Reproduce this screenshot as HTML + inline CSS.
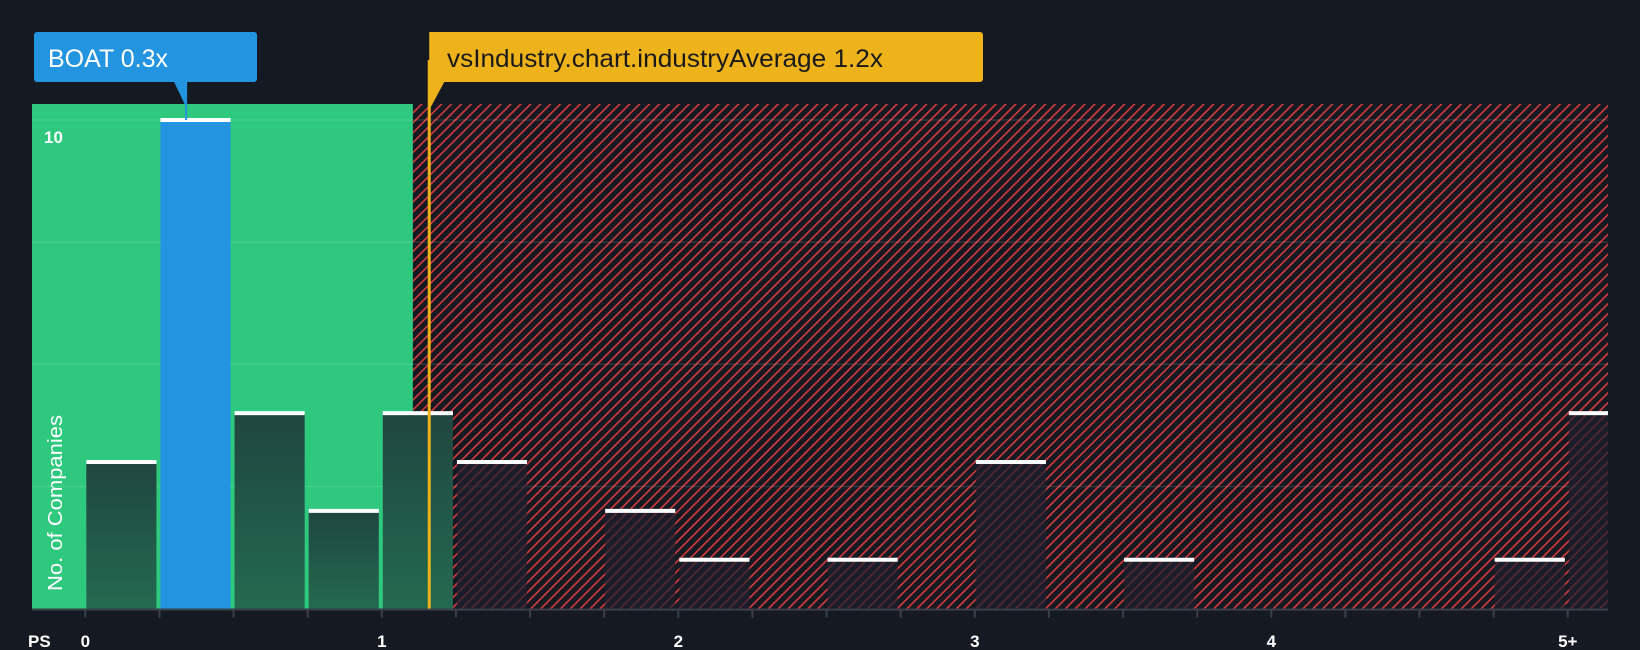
<!DOCTYPE html>
<html><head><meta charset="utf-8"><style>
html,body{margin:0;padding:0;background:#151a22;}
svg{display:block;font-family:"Liberation Sans",sans-serif;}
</style></head><body>
<svg id="chart" width="1640" height="650" viewBox="0 0 1640 650">
<defs>
<pattern id="hatch" patternUnits="userSpaceOnUse" width="7" height="7" patternTransform="rotate(45)">
<rect width="7" height="7" fill="#151a22"/>
<rect x="0" y="0" width="1.6" height="7" fill="#d63a3e"/>
</pattern>
<linearGradient id="gbar" x1="0" y1="0" x2="0" y2="1">
<stop offset="0" stop-color="#1f4640"/><stop offset="1" stop-color="#236a50"/>
</linearGradient>
</defs>
<g id="plot"></g>
</svg>
<script>
const binStarts = [0,0.25,0.5,0.75,1,1.25,1.5,1.75,2,2.25,2.5,2.75,3,3.25,3.5,3.75,4,4.25,4.5,4.75,5];
const counts =    [3,10,4,2,4,3,0,2,1,0,1,0,3,0,1,0,0,0,0,1,4];
const yTicks = [10];
const xTickLabels = ["0","1","2","3","4","5+"];
const xTickValues = [0,1,2,3,4,5];
const companyValue = 0.34;
const industryValue = 1.16;
const fairBoundary = 1.105;

const NS="http://www.w3.org/2000/svg";
const x0=85.3, pxPerUnit=296.5, plotL=32, plotR=1608, plotT=104, base=608.6, pxPerCount=48.86;
const X=v=>x0+v*pxPerUnit;
const Y=c=>base-c*pxPerCount;
const g=document.getElementById('plot');
function mk(tag,attrs,parent){const e=document.createElementNS(NS,tag);for(const k in attrs)e.setAttribute(k,attrs[k]);(parent||g).appendChild(e);return e;}

const bx=X(fairBoundary);
const green=mk('rect',{x:plotL,y:plotT,width:bx-plotL,height:base-plotT,fill:'#2ec87e'});


const red=mk('rect',{x:bx,y:plotT,width:plotR-bx,height:base-plotT,fill:'url(#hatch)'});



[2.5,5,7.5,10].forEach(v=>{
  const l=mk('line',{x1:plotL,x2:plotR,y1:Y(v),y2:Y(v),stroke:'rgba(255,255,255,0.12)','stroke-width':1.5});
  
  
});

binStarts.forEach((s,i)=>{
  const c=counts[i]; if(!c) return;
  let l=X(s)+1, r=Math.min(X(s+0.25)-3,plotR);
  const isCo = companyValue>=s && companyValue<s+0.25;
  const inGreen = l<bx;
  const fill = isCo?'#2394e0':(inGreen?'url(#gbar)':'rgba(30,33,45,0.7)');
  const b=mk('rect',{x:l,y:Y(c),width:r-l,height:base-Y(c),fill:fill});
  
  
  const cap=mk('rect',{x:l,y:Y(c)-2,width:r-l,height:4,fill:'#ffffff'});
  
  
});

const ax=mk('line',{x1:plotL,x2:plotR,y1:base+1,y2:base+1,stroke:'#3a3f4a','stroke-width':2});


for(let k=0;k<=20;k++){
  const t=mk('line',{x1:X(k*0.25),x2:X(k*0.25),y1:base,y2:base+9,stroke:'#3a3f4a','stroke-width':2});
  
  
}
xTickValues.forEach((v,i)=>{
  const t=mk('text',{x:X(v),y:647,'text-anchor':'middle',fill:'#fff','font-size':17,'font-weight':'bold'});
  t.textContent=xTickLabels[i];
  
  
});
const ps=mk('text',{x:28,y:647,fill:'#fff','font-size':17,'font-weight':'bold'});ps.textContent='PS';


yTicks.forEach(v=>{
  const t=mk('text',{x:44,y:Y(v)+23,fill:'#fff','font-size':17,'font-weight':'bold'});
  t.textContent=String(v);
  
  
});
const yl=mk('text',{x:0,y:0,fill:'#fff','font-size':20,textLength:176,lengthAdjust:'spacingAndGlyphs',transform:'translate(62,591) rotate(-90)'});
yl.textContent='No. of Companies';



// industry line
const ix=X(industryValue);
const il=mk('line',{x1:ix,x2:ix,y1:60,y2:base,stroke:'#eeb21a','stroke-width':3});


const ib=mk('path',{d:`M${ix-2} 32 H980 a3 3 0 0 1 3 3 V79 a3 3 0 0 1 -3 3 H${ix+15} L${ix} 110 V32 Z`,fill:'#eeb21a'});


const it=mk('text',{x:447,y:67,fill:'#1a1a1a','font-size':25,textLength:436,lengthAdjust:'spacingAndGlyphs'});
it.textContent='vsIndustry.chart.industryAverage 1.2x';



// company label
const cx=X(companyValue);
const cl=mk('line',{x1:cx,x2:cx,y1:80,y2:Y(10),stroke:'#2394e0','stroke-width':2});


const cb=mk('path',{d:`M37 32 H254 a3 3 0 0 1 3 3 V79 a3 3 0 0 1 -3 3 H${cx+1} L${cx-1} 105 L${cx-12} 82 H37 a3 3 0 0 1 -3 -3 V35 a3 3 0 0 1 3 -3 Z`,fill:'#2394e0'});


const ct=mk('text',{x:48,y:67,fill:'#fff','font-size':25,textLength:120,lengthAdjust:'spacingAndGlyphs'});
ct.textContent='BOAT 0.3x';


</script>
</body></html>
